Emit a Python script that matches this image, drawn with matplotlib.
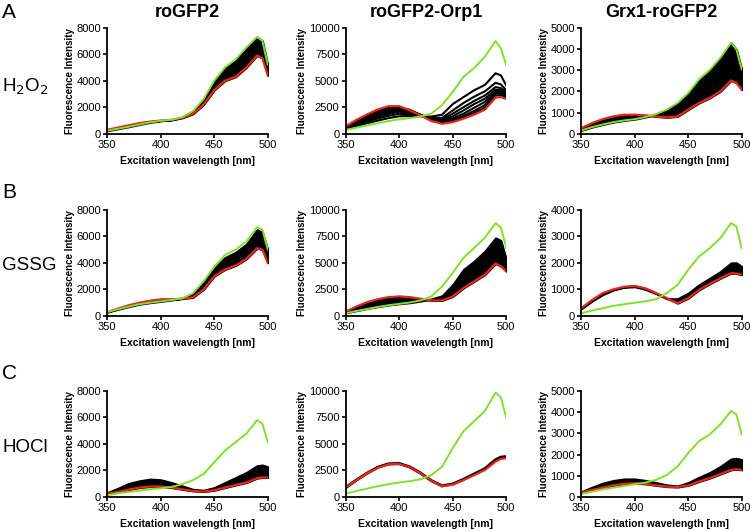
import numpy as np
import matplotlib
matplotlib.use("Agg")
import matplotlib.pyplot as plt

plt.rcParams['font.family'] = ['Liberation Sans', 'DejaVu Sans']

# wavelengths (nm)
wl = [350, 360, 370, 380, 390, 400, 410, 420, 430, 440, 450, 460, 470, 480, 490, 495, 500]

columns = ["roGFP2", "roGFP2-Orp1", "Grx1-roGFP2"]
rows = ["H$_2$O$_2$", "GSSG", "HOCl"]
letters = ["A", "B", "C"]
ymax = [[8000, 10000, 5000], [8000, 10000, 4000], [8000, 10000, 5000]]
yticks_step = [[2000, 2500, 1000], [2000, 2500, 1000], [2000, 2500, 1000]]

# --- H2O2 ---
h2o2_rogfp2_green = [230, 380, 530, 700, 860, 980, 1060, 1250, 1700, 2600, 4000, 5000, 5600, 6500, 7300, 7000, 5200]
h2o2_rogfp2_red = [300, 470, 640, 800, 920, 1000, 1050, 1200, 1500, 2200, 3300, 4000, 4300, 5000, 5900, 5700, 4400]
h2o2_rogfp2_black = h2o2_rogfp2_green

h2o2_orp1_green = [380, 570, 790, 1000, 1200, 1360, 1480, 1640, 1900, 2700, 3950, 5360, 6200, 7250, 8740, 8050, 6470]
h2o2_orp1_red = [700, 1320, 1830, 2300, 2600, 2600, 2200, 1730, 1200, 950, 1100, 1420, 1800, 2270, 3400, 3470, 3280]
h2o2_orp1_lines = [
    [500, 750, 1000, 1250, 1480, 1650, 1680, 1640, 1620, 1800, 2800, 3450, 4100, 4600, 5700, 5500, 4550],
    [550, 850, 1150, 1450, 1700, 1880, 1850, 1700, 1500, 1500, 2200, 2900, 3500, 4000, 4800, 4650, 4100],
    [580, 920, 1280, 1600, 1880, 2080, 2000, 1750, 1450, 1350, 1900, 2500, 3100, 3600, 4400, 4300, 3900],
    [600, 980, 1380, 1720, 2020, 2230, 2120, 1780, 1400, 1250, 1650, 2200, 2800, 3300, 4150, 4100, 3750],
    [630, 1050, 1480, 1850, 2150, 2380, 2200, 1790, 1350, 1150, 1450, 1900, 2450, 3000, 3950, 3950, 3650],
    [660, 1150, 1620, 2020, 2330, 2480, 2250, 1780, 1300, 1050, 1300, 1700, 2150, 2700, 3800, 3800, 3550],
    [690, 1250, 1750, 2200, 2500, 2550, 2230, 1750, 1250, 1000, 1180, 1550, 1950, 2450, 3600, 3650, 3420],
]

h2o2_grx1_green = [160, 315, 440, 550, 630, 690, 790, 930, 1140, 1450, 1920, 2560, 3000, 3580, 4290, 3970, 3030]
h2o2_grx1_red = [270, 500, 690, 820, 900, 900, 870, 820, 770, 820, 1140, 1450, 1690, 2000, 2510, 2400, 2080]
h2o2_grx1_black = h2o2_grx1_green

# --- GSSG ---
gssg_rogfp2_green = [300, 500, 700, 880, 1000, 1100, 1200, 1330, 1700, 2600, 3700, 4600, 5000, 5600, 6700, 6500, 5000]
gssg_rogfp2_red = [290, 550, 800, 1000, 1150, 1250, 1250, 1300, 1400, 2000, 3000, 3500, 3800, 4300, 5100, 5000, 4000]
gssg_rogfp2_black = [300, 500, 700, 880, 1000, 1100, 1200, 1330, 1650, 2500, 3600, 4400, 4800, 5400, 6500, 6300, 5000]

gssg_orp1_green = [250, 470, 660, 850, 1010, 1140, 1270, 1460, 1840, 2780, 4050, 5470, 6400, 7370, 8730, 8320, 6420]
gssg_orp1_red = [410, 890, 1300, 1580, 1770, 1840, 1770, 1610, 1460, 1460, 1840, 2630, 3260, 3890, 4940, 4680, 4210]
gssg_orp1_black = [280, 500, 700, 880, 1030, 1150, 1250, 1400, 1600, 1900, 2950, 4370, 5160, 6100, 7350, 7100, 5300]

gssg_grx1_green = [100, 200, 290, 380, 440, 500, 550, 630, 860, 1170, 1740, 2240, 2550, 2930, 3500, 3370, 2550]
gssg_grx1_red = [290, 600, 860, 1000, 1100, 1130, 1040, 860, 670, 480, 670, 980, 1210, 1420, 1610, 1600, 1550]
gssg_grx1_black = [270, 560, 800, 980, 1080, 1100, 1000, 840, 650, 650, 860, 1170, 1420, 1670, 2000, 2000, 1860]

# --- HOCl ---
hocl_rogfp2_green = [130, 280, 380, 480, 580, 660, 760, 960, 1270, 1730, 2610, 3500, 4140, 4770, 5790, 5530, 4140]
hocl_rogfp2_red = [250, 380, 560, 710, 790, 790, 710, 580, 460, 410, 510, 710, 910, 1090, 1420, 1470, 1470]
hocl_rogfp2_black = [330, 660, 1020, 1220, 1350, 1300, 1090, 840, 580, 510, 710, 1090, 1470, 1850, 2360, 2410, 2280]

hocl_orp1_green = [320, 570, 790, 1020, 1210, 1370, 1490, 1680, 2060, 2860, 4600, 6190, 7140, 8100, 9840, 9370, 7460]
hocl_orp1_red = [890, 1590, 2220, 2760, 3080, 3110, 2790, 2220, 1520, 1020, 1170, 1590, 2060, 2540, 3330, 3590, 3650]
hocl_orp1_black = [890, 1600, 2240, 2800, 3120, 3150, 2820, 2240, 1540, 1050, 1220, 1660, 2160, 2660, 3500, 3750, 3800]

hocl_grx1_green = [140, 250, 360, 440, 520, 600, 680, 810, 1040, 1440, 2070, 2630, 2940, 3420, 4050, 3890, 2940]
hocl_grx1_red = [210, 330, 440, 550, 620, 650, 620, 550, 490, 470, 550, 730, 890, 1080, 1280, 1310, 1280]
hocl_grx1_black = [250, 460, 650, 780, 850, 850, 780, 680, 570, 520, 680, 930, 1150, 1440, 1790, 1820, 1760]

panels = [
    [(h2o2_rogfp2_green, h2o2_rogfp2_red, h2o2_rogfp2_black),
     (h2o2_orp1_green, h2o2_orp1_red, None),
     (h2o2_grx1_green, h2o2_grx1_red, h2o2_grx1_black)],
    [(gssg_rogfp2_green, gssg_rogfp2_red, gssg_rogfp2_black),
     (gssg_orp1_green, gssg_orp1_red, gssg_orp1_black),
     (gssg_grx1_green, gssg_grx1_red, gssg_grx1_black)],
    [(hocl_rogfp2_green, hocl_rogfp2_red, hocl_rogfp2_black),
     (hocl_orp1_green, hocl_orp1_red, None),
     (hocl_grx1_green, hocl_grx1_red, hocl_grx1_black)],
]

GREEN = "#7ee12a"
RED = "#e8261c"

fig = plt.figure(figsize=(7.5, 5.31), dpi=100)

lefts = [0.143, 0.461, 0.775]
bottoms = [0.748, 0.405, 0.064]
w, h = 0.214, 0.2

for r in range(3):
    for c in range(3):
        ax = fig.add_axes([lefts[c], bottoms[r], w, h])
        green, red, black = panels[r][c]
        if black is not None:
            ax.fill_between(wl, black, red, color="black", lw=1.5, edgecolor="black")
        elif r == 0:
            for line in h2o2_orp1_lines:
                ax.plot(wl, line, color="black", lw=1.5)
        else:
            ax.plot(wl, hocl_orp1_black, color="black", lw=2.2)
        ax.plot(wl, red, color=RED, lw=1.6)
        ax.plot(wl, green, color=GREEN, lw=1.4)

        ax.set_xlim(350, 500)
        ax.set_ylim(0, ymax[r][c])
        ax.set_xticks([350, 400, 450, 500])
        ax.set_yticks(np.arange(0, ymax[r][c] + 1, yticks_step[r][c]))
        for s in ["top", "right"]:
            ax.spines[s].set_visible(False)
        for s in ["left", "bottom"]:
            ax.spines[s].set_linewidth(1.3)
        ax.tick_params(direction="out", length=3, width=1.2, labelsize=8, pad=1.5)
        ax.set_xlabel("Excitation wavelength [nm]", fontsize=7.5, fontweight="bold", labelpad=4)
        ax.set_ylabel("Fluorescence Intensity", fontsize=7, fontweight="bold", labelpad=1)
        if r == 0:
            ax.set_title(columns[c], fontsize=13, fontweight="bold", pad=8)

row_y = [0.836, 0.50, 0.158]
letter_y = [0.977, 0.638, 0.297]
for r in range(3):
    fig.text(0.003, row_y[r], rows[r], fontsize=13.5, va="center", ha="left")
    fig.text(0.003, letter_y[r], letters[r], fontsize=15, va="center", ha="left")

fig.savefig("out.png", dpi=100)
